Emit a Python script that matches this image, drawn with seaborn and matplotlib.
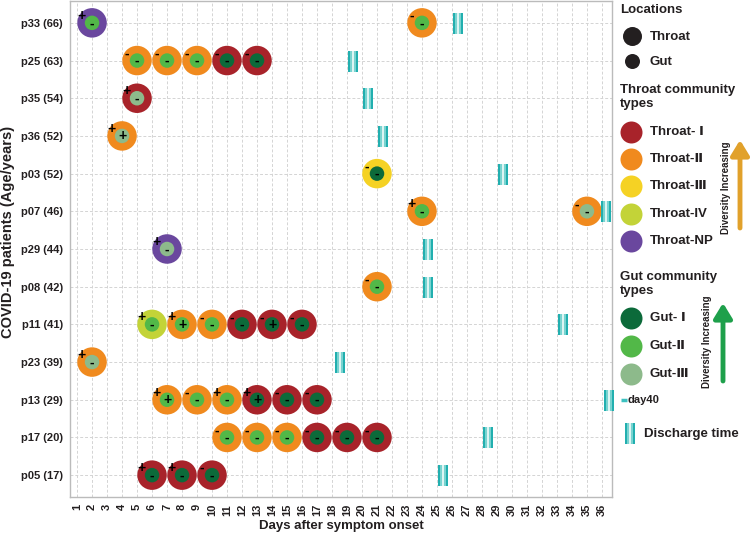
import numpy as np
import pandas as pd
import matplotlib
matplotlib.use("Agg")
import matplotlib.pyplot as plt
import seaborn as sns
from matplotlib.markers import MarkerStyle

# ---------------- data ----------------
patients = ["p33 (66)", "p25 (63)", "p35 (54)", "p36 (52)", "p03 (52)", "p07 (46)",
            "p29 (44)", "p08 (42)", "p11 (41)", "p23 (39)", "p13 (29)", "p17 (20)", "p05 (17)"]
discharge_day = [26.4, 19.4, 20.4, 21.4, 29.4, 36.3, 24.4, 24.4, 33.4, 18.5, 36.5, 28.4, 25.4]

sample_patient = ["p33 (66)", "p33 (66)",
                  "p25 (63)", "p25 (63)", "p25 (63)", "p25 (63)", "p25 (63)",
                  "p35 (54)", "p36 (52)", "p03 (52)",
                  "p07 (46)", "p07 (46)",
                  "p29 (44)", "p08 (42)",
                  "p11 (41)", "p11 (41)", "p11 (41)", "p11 (41)", "p11 (41)", "p11 (41)",
                  "p23 (39)",
                  "p13 (29)", "p13 (29)", "p13 (29)", "p13 (29)", "p13 (29)", "p13 (29)",
                  "p17 (20)", "p17 (20)", "p17 (20)", "p17 (20)", "p17 (20)", "p17 (20)",
                  "p05 (17)", "p05 (17)", "p05 (17)"]
sample_day = [2, 24,
              5, 7, 9, 11, 13,
              5, 4, 21,
              24, 35,
              7, 21,
              6, 8, 10, 12, 14, 16,
              2,
              7, 9, 11, 13, 15, 17,
              11, 13, 15, 17, 19, 21,
              6, 8, 10]
throat_type = ["NP", "II",
               "II", "II", "II", "I", "I",
               "I", "II", "III",
               "II", "II",
               "NP", "II",
               "IV", "II", "II", "I", "I", "I",
               "II",
               "II", "II", "II", "I", "I", "I",
               "II", "II", "II", "I", "I", "I",
               "I", "I", "I"]
gut_type = ["II", "II",
            "II", "II", "II", "I", "I",
            "III", "III", "I",
            "II", "III",
            "III", "II",
            "II", "II", "II", "I", "I", "I",
            "III",
            "II", "II", "II", "I", "I", "I",
            "II", "II", "II", "I", "I", "I",
            "I", "I", "I"]
throat_sign = ["+", "-",
               "-", "-", "-", "-", "-",
               "+", "+", "-",
               "+", "-",
               "+", "-",
               "+", "+", "-", "-", "-", "-",
               "+",
               "+", "-", "+", "+", "-", "-",
               "-", "-", "-", "-", "-", "-",
               "+", "+", "-"]
gut_sign = ["-", "-",
            "-", "-", "-", "-", "-",
            "-", "+", "-",
            "-", "-",
            "-", "-",
            "-", "+", "-", "-", "+", "-",
            "-",
            "+", "-", "-", "+", "-", "-",
            "-", "-", "-", "-", "-", "-",
            "-", "-", "-"]

throat_codes = ["I", "II", "III", "IV", "NP"]
throat_labels = ["Throat- \u2160", "Throat-\u2161", "Throat-\u2162", "Throat-IV", "Throat-NP"]
throat_colors = ["#A8232A", "#F08A1E", "#F5D224", "#C3D338", "#6A479E"]
gut_codes = ["I", "II", "III"]
gut_labels = ["Gut- \u2160", "Gut-\u2161", "Gut-\u2162"]
gut_colors = ["#0C6A3A", "#52B848", "#8DBA8B"]
x_days = list(range(1, 37))

# ---------------- style ----------------
sns.set_style("white")
plt.rcParams["font.family"] = ["Liberation Sans", "DejaVu Sans", "Noto Sans CJK SC"]
plt.rcParams["font.weight"] = "bold"
TXT = "#231F20"

W, H = 750, 533
fig = plt.figure(figsize=(W / 100, H / 100), dpi=100)
ax = fig.add_axes([70 / W, 36 / H, (612 - 70) / W, (533 - 36 - 1) / H])

row_of = {p: i for i, p in enumerate(patients)}
df = pd.DataFrame({
    "patient": sample_patient, "day": sample_day,
    "throat": throat_type, "gut": gut_type,
    "tsign": throat_sign, "gsign": gut_sign,
})
df["row"] = df["patient"].map(row_of)
dis = pd.DataFrame({"patient": patients, "day": discharge_day})
dis["row"] = dis["patient"].map(row_of)

# grid
ax.set_xticks(x_days)
ax.set_yticks(range(len(patients)))
ax.grid(True, color="#D4D4D4", linestyle=(0, (3, 2)), linewidth=0.7)
ax.set_axisbelow(True)

# throat & gut circles
sns.scatterplot(data=df, x="day", y="row", hue="throat", hue_order=throat_codes,
                palette=dict(zip(throat_codes, throat_colors)), s=(29.5 * 0.72) ** 2, linewidth=0,
                legend=False, ax=ax, zorder=3)
sns.scatterplot(data=df, x="day", y="row", hue="gut", hue_order=gut_codes,
                palette=dict(zip(gut_codes, gut_colors)), s=(14.5 * 0.72) ** 2, linewidth=0,
                legend=False, ax=ax, zorder=4)
for _, r in df.iterrows():
    ax.annotate(r["gsign"], (r["day"], r["row"]), xytext=(0, -0.3), textcoords="offset points",
                ha="center", va="center", fontsize=10, fontweight="bold", color="black", zorder=5)
    ax.annotate(r["tsign"], (r["day"], r["row"]), xytext=(-7.5, 5), textcoords="offset points",
                ha="center", va="center", fontsize=10, fontweight="bold", color="black", zorder=5)

# discharge bars
rect = MarkerStyle([(-0.5, -1), (0.5, -1), (0.5, 1), (-0.5, 1), (-0.5, -1)])
rect_mid = MarkerStyle([(-0.3, -1), (0.3, -1), (0.3, 1), (-0.3, 1), (-0.3, -1)])
rect_in = MarkerStyle([(-0.12, -1), (0.12, -1), (0.12, 1), (-0.12, 1), (-0.12, -1)])
for m, c in [(rect, "#22AFAF"), (rect_mid, "#79D3D0"), (rect_in, "#DDF5F3")]:
    sns.scatterplot(data=dis, x="day", y="row", marker=m, s=(21 * 0.72) ** 2, color=c, linewidth=0,
                    legend=False, ax=ax, zorder=3, clip_on=False)

ax.set_xlim(0.53, 36.67)
ax.set_ylim(len(patients) - 1 + 0.58, -0.58)
ax.set_yticklabels(patients, fontsize=8, fontweight="bold", color=TXT)
ax.set_xticklabels([str(d) for d in x_days], rotation=90, fontsize=8, fontweight="bold", color=TXT)
ax.tick_params(axis="both", length=3, width=0.8, color="#777777", pad=2)
ax.set_xlabel("Days after symptom onset", fontsize=9.5, fontweight="bold", color=TXT, va="center")
ax.set_ylabel("COVID-19 patients (Age/years)", fontsize=10.5, fontweight="bold", color=TXT,
              va="center")
ax.xaxis.set_label_coords(0.5, -(526 - 497) / 496)
ax.yaxis.set_label_coords(-(70 - 8) / 542, (497 - 232) / 496)
for sp in ax.spines.values():
    sp.set_color("#BBBBBB")
    sp.set_linewidth(1.0)

# ---------------- legend (figure pixels, y measured from top) ----------------
def fy(y):
    return H - y

lax = fig.add_axes([0, 0, 1, 1], facecolor="none")
lax.set_xlim(0, W)
lax.set_ylim(0, H)
lax.axis("off")

def title(x, y, s):
    lax.text(x, fy(y), s, fontsize=9.5, fontweight="bold", color=TXT, ha="left", va="center",
             linespacing=1.15)

def label(x, y, s):
    lax.text(x, fy(y), s, fontsize=9.5, fontweight="bold", color=TXT, ha="left", va="center")

title(620, 10, "Locations")
lax.scatter([632], [fy(36)], s=(19 * 0.72) ** 2, color=TXT, linewidth=0)
label(650, 37, "Throat")
lax.scatter([632], [fy(61)], s=(15 * 0.72) ** 2, color=TXT, linewidth=0)
label(650, 62, "Gut")

title(620, 97, "Throat community\ntypes")
for i, (lab, col) in enumerate(zip(throat_labels, throat_colors)):
    yy = 132 + i * 27.2
    lax.scatter([631], [fy(yy)], s=(22 * 0.72) ** 2, color=col, linewidth=0)
    label(650, yy, lab)
lax.annotate("", xy=(740, fy(140)), xytext=(740, fy(228)),
             arrowprops=dict(arrowstyle="-|>,head_width=0.55,head_length=0.9", lw=3.5,
                             color="#E1A12B", shrinkA=0, shrinkB=0))
lax.text(726, fy(188), "Diversity Increasing", rotation=90, fontsize=7, fontweight="bold",
         color=TXT, ha="center", va="center")

title(620, 284, "Gut community\ntypes")
for i, (lab, col) in enumerate(zip(gut_labels, gut_colors)):
    yy = 318 + i * 28
    lax.scatter([631], [fy(yy)], s=(22 * 0.72) ** 2, color=col, linewidth=0)
    label(650, yy, lab)
lax.annotate("", xy=(723, fy(303)), xytext=(723, fy(381)),
             arrowprops=dict(arrowstyle="-|>,head_width=0.55,head_length=0.9", lw=3.5,
                             color="#1EA04B", shrinkA=0, shrinkB=0))
lax.text(707, fy(342), "Diversity Increasing", rotation=90, fontsize=7, fontweight="bold",
         color=TXT, ha="center", va="center")

lax.plot([621, 627], [fy(400), fy(400)], color="#3CC1C0", lw=2.5, solid_capstyle="butt")
lax.text(628, fy(400), "day40", fontsize=8, fontweight="bold", color=TXT, ha="left", va="center")

for m, c in [(rect, "#22AFAF"), (rect_mid, "#79D3D0"), (rect_in, "#DDF5F3")]:
    lax.scatter([630], [fy(433)], marker=m, s=(21 * 0.72) ** 2, color=c, linewidth=0)
lax.text(644, fy(434), "Discharge time", fontsize=9.5, fontweight="bold", color=TXT,
         ha="left", va="center")

fig.savefig("out.png", dpi=100)
